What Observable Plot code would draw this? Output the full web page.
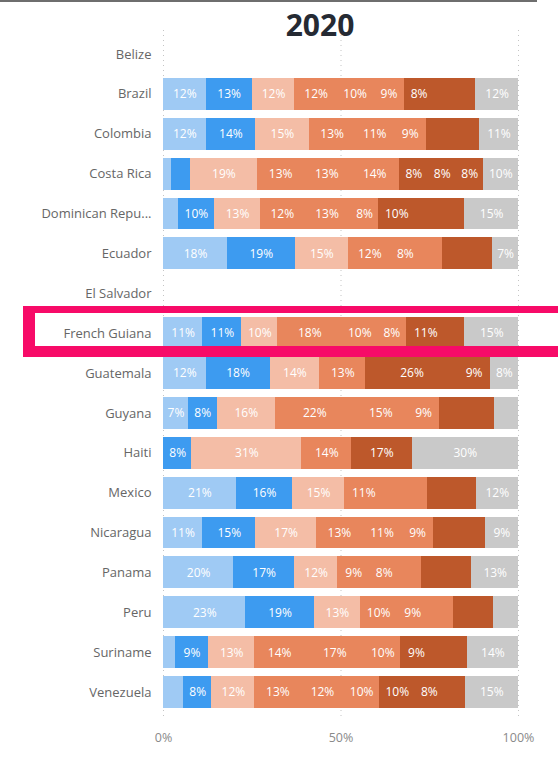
<!DOCTYPE html>
<html>
<head>
<meta charset="utf-8">
<script src="https://cdn.jsdelivr.net/npm/d3@7"></script>
<script src="https://cdn.jsdelivr.net/npm/@observablehq/plot@0.6"></script>
<style>
  html, body { margin: 0; padding: 0; background: #fff; }
  body { width: 558px; height: 762px; overflow: hidden; position: relative; font-family: "Open Sans", sans-serif; }
  #topline { position: absolute; left: 0; top: 0; width: 537px; height: 2px; background: #6e6e6e; }
  #title { height: 30px; position: relative; }
  #title span { position: absolute; left: 0; width: 640px; top: 10px; text-align: center; font-size: 30px; line-height: 30px; font-weight: 700; color: #252a33; }
  #highlight { position: absolute; left: 23px; top: 306px; width: 560px; height: 33px; border-style: solid; border-color: #f70b68; border-width: 7px 0 11px 12px; pointer-events: none; }
</style>
</head>
<body>
<div id="topline"></div>
<div id="title"><span>2020</span></div>
<div id="chart"></div>
<div id="highlight"></div>
<script>
const countries = ["Belize","Brazil","Colombia","Costa Rica","Dominican Republic","Ecuador","El Salvador","French Guiana","Guatemala","Guyana","Haiti","Mexico","Nicaragua","Panama","Peru","Suriname","Venezuela"];

const seriesNames = ["S1","S2","S3","S4","S5","S6","S7","S8","S9","S10","S11"];
const seriesColors = ["#9fcaf4","#3d9bf0","#f4bda6","#e8865c","#e8865c","#e8865c","#bd582b","#bd582b","#bd582b","#bd582b","#c9c9c9"];

// values (%) per country, in the order of `countries`; null = no data
const S1  = [null, 12, 12, 2.3, 4.2, 18, null, 11, 12, 7,   0,   20.6, 11, 19.6, 23, 3.3, 5.6];
const S2  = [null, 13, 14, 5.2, 10,  19, null, 11, 18, 8,   8,   16,   15, 17,   19, 9.4, 8];
const S3  = [null, 12, 15, 19,  13,  15, null, 10, 14, 16.4,31,  14.6, 17, 12,   13, 13,  12];
const S4  = [null, 12, 13, 13,  12,  12, null, 18, 13, 22,  14,  11,   13, 9,    10, 14,  13];
const S5  = [null, 10, 11, 13,  13,  8,  null, 10, 0,  15,  0,   6.4,  11, 8,    9,  17,  12];
const S6  = [null, 9,  9,  14,  8,   6.5,null, 8,  0,  9,   0,   6,    9,  6.5,  6.8,10,  10];
const S7  = [null, 8,  5,  8,   10,  5,  null, 11, 26, 5.5, 17,  5,    5,  5,    6,  9,   10];
const S8  = [null, 6,  5,  8,   5,   5,  null, 5.5,9,  5,   0,   5,    5,  5,    5.3,5,   8];
const S9  = [null, 6,  5,  7.5, 5,   4,  null, 0,  0,  5,   0,   3.9,  4.5,4,    0,  4.8, 6];
const S10 = [null, 0,  0,  0,   4,   0,  null, 0,  0,  0,   0,   0,    0,  0,    0,  0,   0];
const S11 = [null, 12, 11, 10,  15,  7.3,null, 15, 8,  6.6, 30,  12,   9.4,13,   6.9,14.4,15];

const seriesValues = [S1,S2,S3,S4,S5,S6,S7,S8,S9,S10,S11];

const data = [];
countries.forEach((c, i) => {
  seriesNames.forEach((s, j) => {
    const v = seriesValues[j][i];
    if (v != null && v > 0) data.push({country: c, series: s, value: v});
  });
});

const stackOpts = {x: "value", y: "country", z: "series", order: seriesNames, offset: "normalize"};

const chart = Plot.plot({
  width: 558,
  height: 726,
  marginLeft: 163,
  marginRight: 40,
  marginTop: 0,
  marginBottom: 40,
  style: {fontFamily: "Open Sans, sans-serif", background: "transparent"},
  x: {domain: [0, 1], axis: null},
  y: {domain: countries, padding: 0.2, round: false, axis: null},
  color: {domain: seriesNames, range: seriesColors},
  marks: [
    Plot.ruleX([0, 0.5, 1], {stroke: "#c4c4c4", strokeDasharray: "1,4", strokeWidth: 1}),
    Plot.barX(data, Plot.stackX({...stackOpts, fill: "series", shapeRendering: "crispEdges"})),
    Plot.text(data, Plot.stackX({...stackOpts,
      text: d => d.value >= 7 ? Math.round(d.value) + "%" : "",
      fill: "white", fontSize: 12})),
    Plot.axisY({tickSize: 0, tickPadding: 12, fontSize: 13, color: "#666",
      tickFormat: d => d.length > 16 ? d.slice(0, 14) + "..." : d, label: null}),
    Plot.axisX({ticks: [0, 0.5, 1], tickSize: 0, tickPadding: 17, fontSize: 12.5, color: "#8a8a8a",
      tickFormat: d => Math.round(d * 100) + "%", label: null})
  ]
});
document.getElementById("chart").appendChild(chart);
</script>
</body>
</html>
